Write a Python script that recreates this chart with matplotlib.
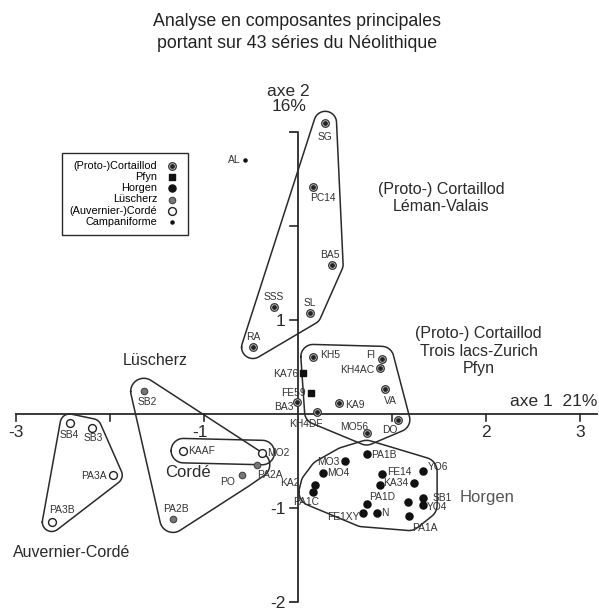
import numpy as np
import matplotlib.pyplot as plt

plt.rcParams['font.family'] = ['Liberation Sans', 'DejaVu Sans']

# coordonnees factorielles (axe 1, axe 2)
cortaillod_names = ['SG', 'PC14', 'BA5', 'SSS', 'SL', 'RA', 'KH5', 'FI', 'KH4AC',
                    'VA', 'KA9', 'KH4DF', 'MO56', 'DO', 'BA3']
cortaillod_x = [0.29, 0.16, 0.36, -0.26, 0.13, -0.48, 0.16, 0.89, 0.87,
                0.93, 0.44, 0.20, 0.73, 1.06, -0.01]
cortaillod_y = [3.10, 2.42, 1.59, 1.14, 1.07, 0.71, 0.61, 0.59, 0.49,
                0.27, 0.12, 0.02, -0.20, -0.06, 0.13]

pfyn_names = ['KA76', 'FE59']
pfyn_x = [0.05, 0.14]
pfyn_y = [0.44, 0.22]

horgen_names = ['MO3', 'PA1B', 'MO4', 'FE14', 'YO6', 'KA2', 'PA1C', 'FE1XY', 'N',
                'PA1A', 'PA1D', 'KA34', '', '', 'SB1', 'YO4']
horgen_x = [0.50, 0.73, 0.27, 0.89, 1.33, 0.18, 0.16, 0.69, 0.84,
            1.18, 0.73, 0.87, 1.23, 1.17, 1.33, 1.33]
horgen_y = [-0.50, -0.43, -0.63, -0.64, -0.61, -0.75, -0.83, -1.05, -1.05,
            -1.09, -0.96, -0.76, -0.73, -0.94, -0.89, -0.97]

luscherz_names = ['SB2', 'PO', 'PA2A', 'PA2B']
luscherz_x = [-1.64, -0.60, -0.44, -1.33]
luscherz_y = [0.24, -0.65, -0.54, -1.12]

corde_names = ['SB4', 'SB3', 'PA3A', 'PA3B', 'KAAF', 'MO2']
corde_x = [-2.43, -2.19, -1.97, -2.62, -1.22, -0.38]
corde_y = [-0.10, -0.15, -0.65, -1.15, -0.39, -0.41]

campani_names = ['AL']
campani_x = [-0.56]
campani_y = [2.70]

# regroupements entoures sur la figure
groups = {
    'leman': ['SG', 'PC14', 'BA5', 'SSS', 'SL', 'RA'],
    'trois_lacs': ['KH5', 'FI', 'KH4AC', 'VA', 'KA9', 'KH4DF', 'MO56', 'DO'],
    'horgen': ['MO3', 'PA1B', 'MO4', 'FE14', 'YO6', 'KA2', 'PA1C', 'FE1XY', 'N',
               'PA1A', 'PA1D', 'KA34', 'SB1', 'YO4'],
    'luscherz': ['SB2', 'PO', 'PA2A', 'PA2B'],
    'auvernier': ['SB4', 'SB3', 'PA3A', 'PA3B'],
    'corde': ['KAAF', 'MO2'],
}
group_pad = {'leman': 0.12, 'trois_lacs': 0.13, 'horgen': 0.15,
             'luscherz': 0.14, 'auvernier': 0.1, 'corde': 0.13}

# decalage des etiquettes en pixels (dx, dy vers le bas, alignement)
label_pos = {
    'SG': (0, 14, 'center'), 'PC14': (10, 11, 'center'), 'BA5': (-2, -10, 'center'),
    'SSS': (0, -10, 'center'), 'SL': (0, -10, 'center'), 'RA': (0, -10, 'center'),
    'KH5': (7, -2, 'left'), 'FI': (-6, -4, 'right'), 'KH4AC': (-6, 2, 'right'),
    'VA': (5, 12, 'center'), 'KA9': (6, 2, 'left'), 'KH4DF': (-11, 12, 'center'),
    'MO56': (-12, -6, 'center'), 'DO': (-8, 10, 'center'), 'BA3': (-3, 5, 'right'),
    'KA76': (-4, 1, 'right'), 'FE59': (-5, 0, 'right'),
    'MO3': (-5, 1, 'right'), 'PA1B': (5, 1, 'left'), 'MO4': (4, 0, 'left'),
    'FE14': (5, -2, 'left'), 'YO6': (5, -4, 'left'), 'KA2': (-15, -1, 'right'),
    'PA1C': (-7, 10, 'center'), 'FE1XY': (-3, 4, 'right'), 'N': (4, 0, 'left'),
    'PA1A': (16, 12, 'center'), 'PA1D': (3, -7, 'left'), 'KA34': (3, -2, 'left'),
    'SB1': (10, 0, 'left'), 'YO4': (4, 2, 'left'),
    'SB2': (3, 11, 'center'), 'PO': (-14, 7, 'center'), 'PA2A': (13, 10, 'center'),
    'PA2B': (3, -10, 'center'),
    'SB4': (0, 12, 'center'), 'SB3': (1, 10, 'center'), 'PA3A': (-6, 1, 'right'),
    'PA3B': (10, -12, 'center'), 'KAAF': (5, 0, 'left'), 'MO2': (5, 0, 'left'),
    'AL': (-5, 0, 'right'),
}


def rounded_hull(xs, ys, r, n=36):
    t = np.linspace(0, 2 * np.pi, n, endpoint=False)
    px = (np.asarray(xs)[:, None] + r * np.cos(t)).ravel()
    py = (np.asarray(ys)[:, None] + r * np.sin(t)).ravel()
    pts = sorted(zip(px, py))

    def cross(o, a, b):
        return (a[0] - o[0]) * (b[1] - o[1]) - (a[1] - o[1]) * (b[0] - o[0])

    lower, upper = [], []
    for p in pts:
        while len(lower) >= 2 and cross(lower[-2], lower[-1], p) <= 0:
            lower.pop()
        lower.append(p)
    for p in reversed(pts):
        while len(upper) >= 2 and cross(upper[-2], upper[-1], p) <= 0:
            upper.pop()
        upper.append(p)
    hull = np.array(lower[:-1] + upper[:-1])
    return np.vstack([hull, hull[:1]])


W, H = 599, 611
X0, Y0, S = 298, 414, 94.0   # pixel de l'origine et pixels par unite

fig = plt.figure(figsize=(W / 100, H / 100), dpi=100)
ax = fig.add_axes([0, 0, 1, 1])
ax.set_xlim(-X0 / S, (W - X0) / S)
ax.set_ylim((Y0 - H) / S, Y0 / S)
ax.axis('off')

ink = '#2a2a2a'

# axes factoriels
ax.plot([-3, (W - 2 - X0) / S], [0, 0], color=ink, lw=1.3, zorder=1)
ax.plot([-0.09, 0, 0, -0.09], [3, 3, -2, -2], color=ink, lw=1.3, zorder=1)
for t in [-3, -2, -1, 1, 2, 3]:
    ax.plot([t, t], [0, -0.07], color=ink, lw=1.2)
for t in [1, 2, -1]:
    ax.plot([-0.08, 0], [t, t], color=ink, lw=1.2)
for t, lab in [(-3, '-3'), (-1, '-1'), (2, '2'), (3, '3')]:
    ax.text(t - (0.04 if t == -1 else 0), -0.2, lab, ha='center', va='center',
            fontsize=12.5, color=ink)
for t, lab in [(1, '1'), (-1, '-1'), (-2, '-2')]:
    ax.text(-0.13, t - 0.02, lab, ha='right', va='center', fontsize=12.5, color=ink)
ax.text(3.18, 0.13, 'axe 1  21%', ha='right', va='center', fontsize=12.5, color=ink)
ax.text(-0.1, 3.35, 'axe 2\n16%', ha='center', va='center', fontsize=12.5,
        color=ink, linespacing=1.05)

# enveloppes des groupes
all_names = (cortaillod_names + pfyn_names + horgen_names + luscherz_names
             + corde_names + campani_names)
all_x = cortaillod_x + pfyn_x + horgen_x + luscherz_x + corde_x + campani_x
all_y = cortaillod_y + pfyn_y + horgen_y + luscherz_y + corde_y + campani_y
coords = {n: (x, y) for n, x, y in zip(all_names, all_x, all_y) if n}
for g, members in groups.items():
    gx = [coords[m][0] for m in members]
    gy = [coords[m][1] for m in members]
    hull = rounded_hull(gx, gy, group_pad[g])
    ax.plot(hull[:, 0], hull[:, 1], color=ink, lw=1.1, zorder=2)

# points
h_cort = ax.scatter(cortaillod_x, cortaillod_y, s=30, facecolor='#d0d0d0',
                    edgecolor='#333333', linewidth=0.9, zorder=3)
h_cort_c = ax.scatter(cortaillod_x, cortaillod_y, s=6, color='#222222', zorder=4)
h_pfyn = ax.scatter(pfyn_x, pfyn_y, s=20, marker='s', color='#111111', zorder=3)
h_horg = ax.scatter(horgen_x, horgen_y, s=26, color='#111111', zorder=3)
h_lusc = ax.scatter(luscherz_x, luscherz_y, s=22, facecolor='#777777',
                    edgecolor='#444444', linewidth=0.8, zorder=3)
h_corde = ax.scatter(corde_x, corde_y, s=32, facecolor='white',
                     edgecolor='#222222', linewidth=1.0, zorder=3)
h_camp = ax.scatter(campani_x, campani_y, s=5, color='#111111', zorder=3)

for n, x, y in zip(all_names, all_x, all_y):
    if not n:
        continue
    dx, dy, ha = label_pos[n]
    ax.annotate(n, (x, y), xytext=(dx, -dy), textcoords='offset pixels',
                ha=ha, va='center', fontsize=7.4, color='#333333', zorder=5)

leg = ax.legend([(h_cort, h_cort_c), h_pfyn, h_horg, h_lusc, h_corde, h_camp],
                ['(Proto-)Cortaillod', 'Pfyn', 'Horgen', 'Lüscherz',
                 '(Auvernier-)Cordé', 'Campaniforme'],
                loc='upper left', bbox_to_anchor=(62 / W, 1 - 153 / H),
                borderaxespad=0, markerfirst=False, fontsize=7.8, fancybox=False,
                edgecolor=ink, framealpha=1, labelspacing=0.12,
                handlelength=1.4, handletextpad=0.7, borderpad=0.7)
leg.get_frame().set_linewidth(1.0)

# noms des groupes
ax.text(1.52, 2.3, '(Proto-) Cortaillod\nLéman-Valais', ha='center', va='center',
        fontsize=11.5, color=ink)
ax.text(1.92, 0.67, '(Proto-) Cortaillod\nTrois lacs-Zurich\nPfyn', ha='center',
        va='center', fontsize=11.5, color=ink)
ax.text(-1.52, 0.57, 'Lüscherz', ha='center', va='center', fontsize=11.5, color=ink)
ax.text(-1.17, -0.62, 'Cordé', ha='center', va='center', fontsize=12, color=ink)
ax.text(1.72, -0.89, 'Horgen', ha='left', va='center', fontsize=12, color='#555555')
ax.text(-3.03, -1.47, 'Auvernier-Cordé', ha='left', va='center', fontsize=11.5,
        color=ink)

fig.text(297 / W, 1 - 22 / H, 'Analyse en composantes principales', ha='center',
         va='center', fontsize=12.8, color='#222222')
fig.text(297 / W, 1 - 43 / H, 'portant sur 43 séries du Néolithique', ha='center',
         va='center', fontsize=12.8, color='#222222')

fig.savefig('out.png', dpi=100, facecolor='white')
